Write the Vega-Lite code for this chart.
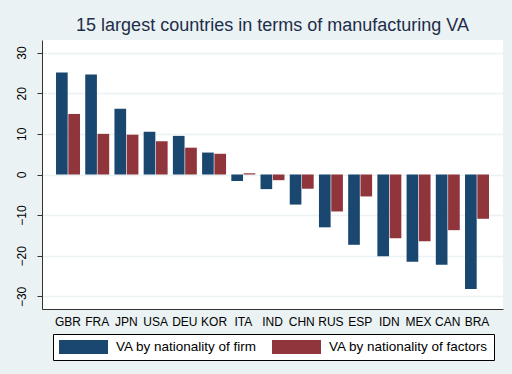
{
  "$schema": "https://vega.github.io/schema/vega-lite/v6.json",
  "autosize": {"type": "none"},
  "width": 461,
  "height": 269,
  "padding": {"left": 42, "top": 40, "right": 9, "bottom": 65},
  "background": "#eaf2f3",
  "view": {"fill": "white", "stroke": null},
  "title": {
    "text": "15 largest countries in terms of manufacturing VA",
    "fontSize": 18,
    "font": "Liberation Sans",
    "fontWeight": "normal",
    "color": "#1e2d4a",
    "anchor": "middle",
    "baseline": "bottom",
    "offset": 8,
    "dy": 21
  },
  "data": {
    "values": [
      {"country": "GBR", "series": "VA by nationality of firm", "value": 25.1},
      {"country": "GBR", "series": "VA by nationality of factors", "value": 14.9},
      {"country": "FRA", "series": "VA by nationality of firm", "value": 24.6},
      {"country": "FRA", "series": "VA by nationality of factors", "value": 10.0},
      {"country": "JPN", "series": "VA by nationality of firm", "value": 16.2},
      {"country": "JPN", "series": "VA by nationality of factors", "value": 9.8},
      {"country": "USA", "series": "VA by nationality of firm", "value": 10.5},
      {"country": "USA", "series": "VA by nationality of factors", "value": 8.2},
      {"country": "DEU", "series": "VA by nationality of firm", "value": 9.5},
      {"country": "DEU", "series": "VA by nationality of factors", "value": 6.6},
      {"country": "KOR", "series": "VA by nationality of firm", "value": 5.4},
      {"country": "KOR", "series": "VA by nationality of factors", "value": 5.1},
      {"country": "ITA", "series": "VA by nationality of firm", "value": -1.6},
      {"country": "ITA", "series": "VA by nationality of factors", "value": 0.3},
      {"country": "IND", "series": "VA by nationality of firm", "value": -3.6},
      {"country": "IND", "series": "VA by nationality of factors", "value": -1.4},
      {"country": "CHN", "series": "VA by nationality of firm", "value": -7.4},
      {"country": "CHN", "series": "VA by nationality of factors", "value": -3.5},
      {"country": "RUS", "series": "VA by nationality of firm", "value": -13.0},
      {"country": "RUS", "series": "VA by nationality of factors", "value": -9.1},
      {"country": "ESP", "series": "VA by nationality of firm", "value": -17.3},
      {"country": "ESP", "series": "VA by nationality of factors", "value": -5.4},
      {"country": "IDN", "series": "VA by nationality of firm", "value": -20.1},
      {"country": "IDN", "series": "VA by nationality of factors", "value": -15.7},
      {"country": "MEX", "series": "VA by nationality of firm", "value": -21.5},
      {"country": "MEX", "series": "VA by nationality of factors", "value": -16.4},
      {"country": "CAN", "series": "VA by nationality of firm", "value": -22.2},
      {"country": "CAN", "series": "VA by nationality of factors", "value": -13.7},
      {"country": "BRA", "series": "VA by nationality of firm", "value": -28.2},
      {"country": "BRA", "series": "VA by nationality of factors", "value": -10.9}
    ]
  },
  "mark": {"type": "bar"},
  "encoding": {
    "x": {
      "field": "country",
      "type": "nominal",
      "sort": null,
      "scale": {"paddingInner": 0.18, "paddingOuter": 0.48},
      "axis": {
        "title": null,
        "labelAngle": 0,
        "ticks": false,
        "domain": true,
        "domainColor": "#333333",
        "domainWidth": 1,
        "labelFont": "Liberation Sans",
        "labelFontSize": 12,
        "labelColor": "#000000",
        "labelPadding": 7,
        "grid": false
      }
    },
    "xOffset": {
      "field": "series",
      "type": "nominal",
      "sort": ["VA by nationality of firm", "VA by nationality of factors"],
      "scale": {"paddingInner": 0.05}
    },
    "y": {
      "field": "value",
      "type": "quantitative",
      "scale": {"domain": [-33.1, 33.1], "nice": false, "zero": false},
      "axis": {
        "title": null,
        "values": [-30, -20, -10, 0, 10, 20, 30],
        "labelAngle": 270,
        "labelAlign": "center",
        "labelBaseline": "bottom",
        "labelFont": "Liberation Sans",
        "labelFontSize": 12,
        "labelColor": "#000000",
        "labelPadding": 9,
        "ticks": true,
        "tickSize": 5,
        "tickColor": "#333333",
        "domain": true,
        "domainColor": "#333333",
        "grid": true,
        "gridColor": "#eaf2f3",
        "gridWidth": 1.5
      }
    },
    "color": {
      "field": "series",
      "type": "nominal",
      "sort": ["VA by nationality of firm", "VA by nationality of factors"],
      "scale": {
        "domain": ["VA by nationality of firm", "VA by nationality of factors"],
        "range": ["#1a476f", "#90353b"]
      },
      "legend": {
        "title": null,
        "orient": "none",
        "legendX": 11,
        "legendY": 294,
        "direction": "horizontal",
        "columns": 2,
        "fillColor": "white",
        "strokeColor": "#000000",
        "padding": 6,
        "symbolType": "M-1,-1H6V1H-1Z",
        "symbolSize": 196,
        "symbolStrokeWidth": 0,
        "symbolOpacity": 1,
        "labelFont": "Liberation Sans",
        "labelFontSize": 13.5,
        "labelColor": "#000000",
        "labelOffset": 43,
        "columnPadding": 15,
        "labelLimit": 300
      }
    }
  }
}
